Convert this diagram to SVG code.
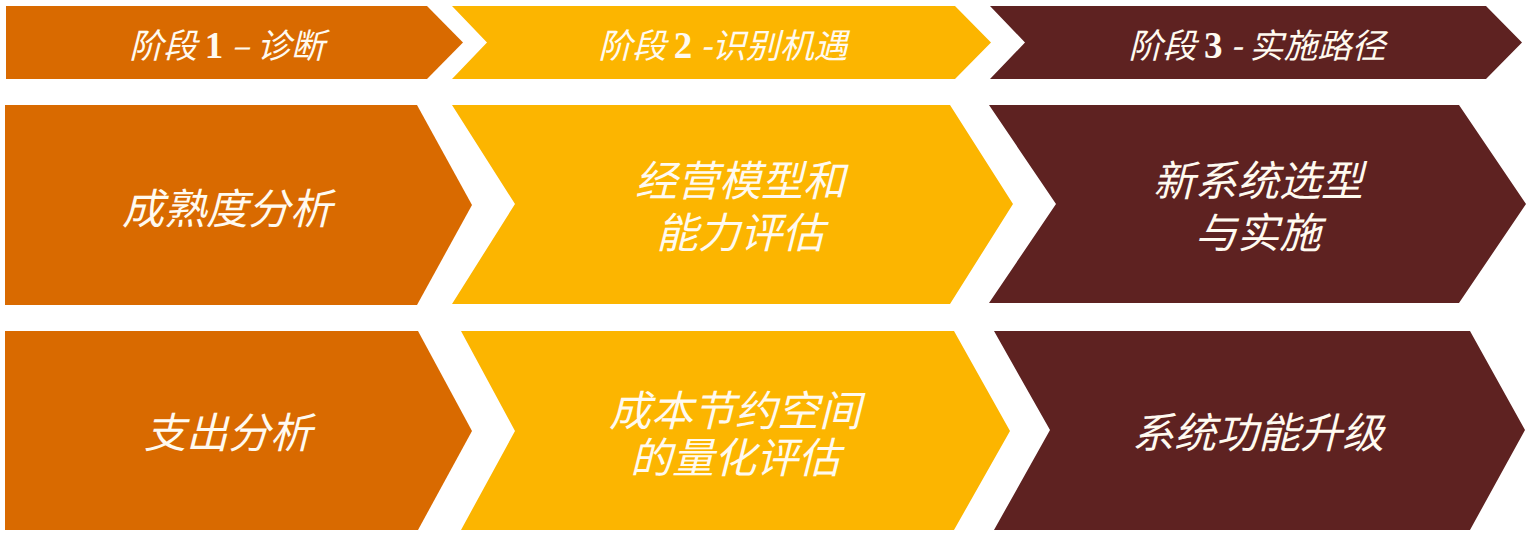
<svg xmlns="http://www.w3.org/2000/svg" width="1539" height="539" viewBox="0 0 1539 539">
<style>
.o{fill:#D96A00}
.y{fill:#FCB500}
.m{fill:#5E2221}
text{fill:#FFFAF0;font-family:"Noto Sans CJK SC","Liberation Serif",serif;font-style:italic;text-anchor:middle}
.h{font-size:34px}
.b{font-size:42px}
.d{font-family:"Liberation Serif",serif;font-weight:bold;font-style:normal;font-size:37px}
</style>
<rect width="1539" height="539" fill="#FFFFFF"/>
<g id="header1">
<polygon class="o" points="6,6 427,6 463,42.5 427,79 6,79"/>
<text class="h" x="227" y="58">阶段 <tspan class="d">1</tspan> – 诊断</text>
</g>
<g id="header2">
<polygon class="y" points="452,6 955,6 991,42.5 955,79 452,79 487,42.5"/>
<text class="h" x="723" y="58">阶段 <tspan class="d">2</tspan> -识别机遇</text>
</g>
<g id="header3">
<polygon class="m" points="990,6 1486,6 1522,42.5 1486,79 990,79 1025,42.5"/>
<text class="h" x="1257" y="58">阶段 <tspan class="d">3</tspan> - 实施路径</text>
</g>
<g id="maturity">
<polygon class="o" points="5,105 417,105 472,205 417,305 5,305"/>
<text class="b" x="227" y="224">成熟度分析</text>
</g>
<g id="model">
<polygon class="y" points="452,105 950,105 1013,204 950,304 452,304 515,204"/>
<text class="b"><tspan x="740" y="196">经营模型和</tspan><tspan x="740" y="248">能力评估</tspan></text>
</g>
<g id="newsystem">
<polygon class="m" points="989,105 1459,105 1526,204 1459,303 989,303 1056,204"/>
<text class="b"><tspan x="1258" y="196">新系统选型</tspan><tspan x="1258" y="248">与实施</tspan></text>
</g>
<g id="spend">
<polygon class="o" points="5,331 418,331 472,431 418,530 5,530"/>
<text class="b" x="228" y="448">支出分析</text>
</g>
<g id="savings">
<polygon class="y" points="461,331 954,331 1010,431 954,530 461,530 515,431"/>
<text class="b"><tspan x="735" y="426">成本节约空间</tspan><tspan x="735" y="473">的量化评估</tspan></text>
</g>
<g id="upgrade">
<polygon class="m" points="994,331 1470,331 1525,430 1470,530 994,530 1050,430"/>
<text class="b" x="1258" y="448">系统功能升级</text>
</g>
<g id="connectors"></g>
</svg>
